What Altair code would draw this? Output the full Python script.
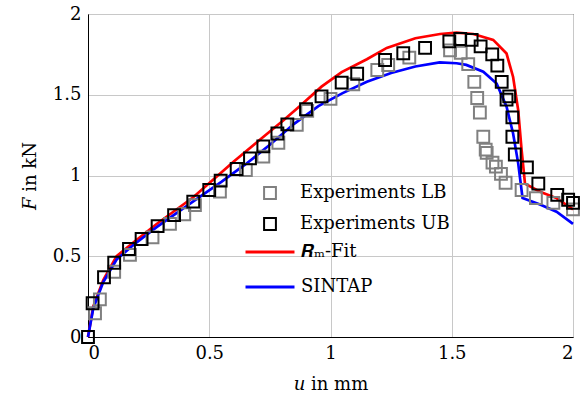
import altair as alt
import pandas as pd

# Experiments LB (grey squares)
lb_u = [0.029, 0.049, 0.108, 0.173, 0.266, 0.338, 0.397, 0.441, 0.544, 0.651, 0.723, 0.785,
        0.861, 0.904, 1.0, 1.094, 1.193, 1.238, 1.325, 1.493, 1.537, 1.568, 1.593, 1.605,
        1.616, 1.63, 1.64, 1.644, 1.668, 1.682, 1.703, 1.722, 1.788, 1.847, 1.919, 2.0]
lb_F = [0.147, 0.233, 0.404, 0.508, 0.617, 0.70, 0.76, 0.817, 0.90, 1.034, 1.117, 1.203,
        1.313, 1.40, 1.474, 1.565, 1.653, 1.684, 1.73, 1.775, 1.76, 1.69, 1.58, 1.48,
        1.39, 1.24, 1.16, 1.14, 1.08, 1.055, 1.01, 0.955, 0.91, 0.86, 0.83, 0.79]

# Experiments UB (black squares)
ub_u = [0, 0.019, 0.066, 0.108, 0.169, 0.221, 0.287, 0.355, 0.434, 0.50, 0.547, 0.613,
        0.668, 0.723, 0.781, 0.822, 0.899, 0.963, 1.046, 1.11, 1.225, 1.30, 1.39, 1.49,
        1.535, 1.582, 1.619, 1.667, 1.688, 1.706, 1.726, 1.737, 1.75, 1.75, 1.76, 1.81,
        1.857, 1.935, 1.98, 2.0]
ub_F = [0, 0.209, 0.37, 0.46, 0.545, 0.607, 0.687, 0.755, 0.838, 0.91, 0.968, 1.04,
        1.106, 1.18, 1.26, 1.317, 1.41, 1.49, 1.575, 1.63, 1.715, 1.757, 1.79, 1.83,
        1.845, 1.84, 1.80, 1.75, 1.68, 1.58, 1.47, 1.49, 1.36, 1.24, 1.13, 1.05,
        0.95, 0.88, 0.85, 0.83]

# Rm-Fit (red curve)
rm_u = [0, 0.022, 0.063, 0.118, 0.187, 0.283, 0.434, 0.6, 0.7, 0.805, 0.874, 0.963,
        1.046, 1.15, 1.232, 1.35, 1.452, 1.52, 1.589, 1.671, 1.726, 1.753, 1.774, 1.788,
        1.802, 1.864, 1.932, 2.0]
rm_F = [0, 0.19, 0.353, 0.50, 0.585, 0.70, 0.865, 1.085, 1.21, 1.34, 1.43, 1.55,
        1.64, 1.72, 1.79, 1.85, 1.876, 1.885, 1.876, 1.84, 1.755, 1.61, 1.405, 1.158,
        0.95, 0.90, 0.86, 0.79]

# SINTAP (blue curve)
si_u = [0, 0.022, 0.063, 0.118, 0.187, 0.283, 0.434, 0.55, 0.65, 0.75, 0.85, 0.95,
        1.05, 1.15, 1.25, 1.35, 1.45, 1.52, 1.56, 1.63, 1.685, 1.726, 1.753, 1.774,
        1.792, 1.864, 1.932, 2.0]
si_F = [0, 0.18, 0.34, 0.48, 0.57, 0.68, 0.84, 0.96, 1.07, 1.19, 1.32, 1.43,
        1.51, 1.58, 1.635, 1.675, 1.70, 1.695, 1.685, 1.643, 1.57, 1.426, 1.26, 1.075,
        0.86, 0.82, 0.776, 0.70]

point_names = ["Experiments LB", "Experiments UB"]
point_colors = ["#808080", "#000000"]
line_names = ["𝑹ₘ-Fit", "SINTAP"]
line_colors = ["#ff0000", "#0000ff"]
ticks = [0, 0.5, 1, 1.5, 2]

pts = pd.concat([
    pd.DataFrame({"u": lb_u, "F": lb_F, "series": point_names[0]}),
    pd.DataFrame({"u": ub_u, "F": ub_F, "series": point_names[1]}),
], ignore_index=True)
lines = pd.concat([
    pd.DataFrame({"u": rm_u, "F": rm_F, "series": line_names[0]}),
    pd.DataFrame({"u": si_u, "F": si_F, "series": line_names[1]}),
], ignore_index=True)

FONT = "DejaVu Serif"
FS = 18

xenc = alt.X("u:Q", scale=alt.Scale(domain=[0, 2], nice=False),
             axis=alt.Axis(values=ticks, format="~g", title="𝑢 in mm", titlePadding=13))
yenc = alt.Y("F:Q", scale=alt.Scale(domain=[0, 2], nice=False),
             axis=alt.Axis(values=ticks, format="~g", title="𝐹 in kN", titlePadding=13))

pt_leg = alt.Legend(title=None, orient="none", legendX=173, legendY=170,
                    symbolType="square", symbolSize=140, symbolStrokeWidth=2,
                    labelFont=FONT, labelFontSize=FS, labelColor="black",
                    labelOffset=21, rowPadding=11, padding=0)
ln_leg = alt.Legend(title=None, orient="none", legendX=156, legendY=212,
                    symbolType="stroke", symbolSize=2400, symbolStrokeWidth=3,
                    labelFont=FONT, labelFontSize=FS, labelColor="black",
                    labelOffset=5, rowPadding=-2, padding=0)

line_layer = alt.Chart(lines).mark_line(strokeWidth=2.7).encode(
    x=xenc, y=yenc,
    color=alt.Color("series:N", scale=alt.Scale(domain=line_names, range=line_colors), legend=ln_leg),
)
point_layer = alt.Chart(pts).mark_point(filled=False, opacity=1, shape="square",
                                        size=140, strokeWidth=2).encode(
    x=xenc, y=yenc,
    color=alt.Color("series:N", scale=alt.Scale(domain=point_names, range=point_colors), legend=pt_leg),
)

chart = alt.layer(line_layer, point_layer).resolve_scale(
    color="independent"
).properties(
    width=485, height=323,
    padding={"left": 88, "top": 14, "right": 11, "bottom": 61},
    autosize="none",
).configure_view(
    stroke="black", strokeWidth=1
).configure_axis(
    grid=True, gridColor="#c8c8c8", gridWidth=1,
    domainColor="black", domainWidth=1,
    ticks=False, labelFont=FONT, labelFontSize=FS, labelColor="black",
    labelPadding=7, titleFont=FONT, titleFontSize=FS, titleFontWeight="normal",
    titleColor="black",
)

chart.save("out.html", embed_options={"renderer": "svg", "actions": False})
